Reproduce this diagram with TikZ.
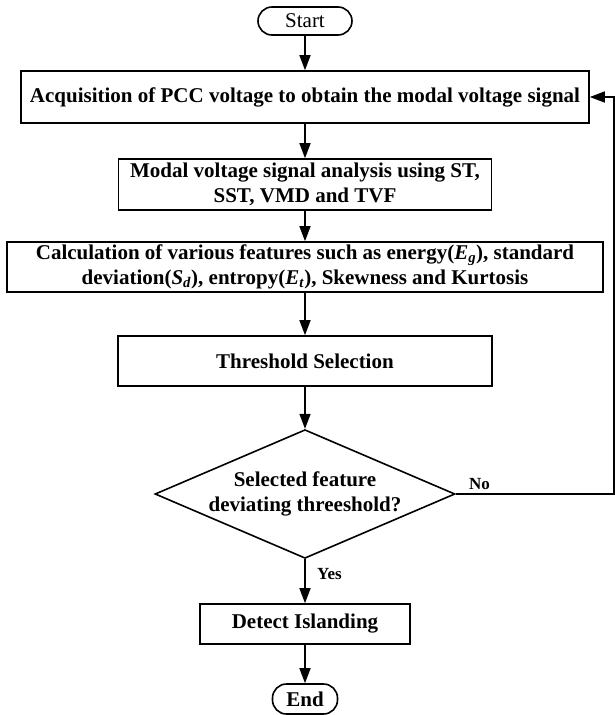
\documentclass[tikz,border=0pt]{standalone}
\usepackage{fontspec}
\setmainfont{Liberation Serif}
\usetikzlibrary{shapes.geometric, positioning, arrows.meta}
\newcommand{\fsym}[2]{\textit{#1}\textsubscript{\textit{#2}}}
\tikzset{
  ->, % every connector ends in a head
  >={Triangle[length=15pt, width=11pt]}, % solid heads as in the figure
  every node/.style={font=\fontsize{21}{25.5}\selectfont\bfseries},
  process/.style={draw, rectangle, align=center, inner sep=0pt}, % plain step boxes
  terminal/.style={draw, rectangle, rounded corners=14pt, inner sep=0pt}, % start and end
  decision/.style={draw, diamond, aspect=2.3, align=center, inner sep=0pt}, % the test
  tag/.style={font=\fontsize{17}{20}\selectfont\bfseries}, % yes / no labels
}

\begin{document}
\begin{tikzpicture}[on grid, auto, line width=1.6pt]
  \useasboundingbox (-305pt,21pt) rectangle (310pt,-694pt);

  \node[terminal, minimum width=94pt, minimum height=28pt,
        font=\fontsize{21}{25.5}\selectfont\mdseries] (1) {Start};
  \node[process, below=76pt of 1, minimum width=568pt, minimum height=52pt] (2)
    {Acquisition of PCC voltage to obtain the modal voltage signal};
  \node[process, below=87.5pt of 2, minimum width=373pt, minimum height=51pt] (3)
    {Modal voltage signal analysis using ST,\\ SST, VMD and TVF};
  \node[process, below=82.5pt of 3, minimum width=596pt, minimum height=50pt] (4)
    {Calculation of various features such as energy(\fsym{E}{g}), standard\\
     deviation(\fsym{S}{d}), entropy(\fsym{E}{t}), Skewness and Kurtosis};
  \node[process, below=94pt of 4, minimum width=374pt, minimum height=50pt] (5)
    {Threshold Selection};
  \node[decision, below=133pt of 5, minimum width=300pt, minimum height=127pt] (6)
    {Selected feature\\ deviating threeshold?};
  \node[process, below=130pt of 6, minimum width=210pt, minimum height=40pt] (7)
    {Detect Islanding};
  \node[terminal, below=75pt of 7, minimum width=65pt, minimum height=30pt] (8) {End};
  \coordinate[right=158pt of 6.east] (9);

  \draw (1) edge (2) (2) edge (3) (3) edge (4) (4) edge (5) (5) edge (6)
        (6) edge node[tag, pos=0.34, xshift=8pt]{Yes} (7)
        (7) edge (8);
  \draw (6.east) -- node[tag, above, pos=0.15]{No} (9) |- (2.east);

\end{tikzpicture}
\end{document}
